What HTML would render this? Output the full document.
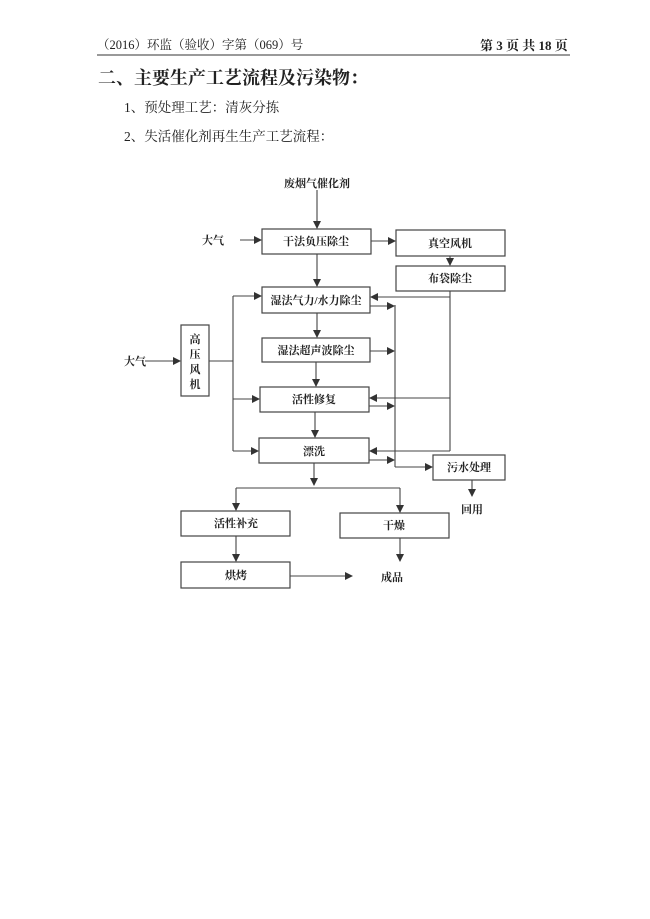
<!DOCTYPE html>
<html><head><meta charset="utf-8"><style>
body{margin:0;background:#fff;}
svg{display:block;}
text{font-family:"Liberation Serif","Noto Serif CJK SC","Noto Sans CJK SC",serif;fill:#222;}
</style></head><body>
<svg width="650" height="919" viewBox="0 0 650 919" xmlns="http://www.w3.org/2000/svg">
<defs><marker id="a" markerWidth="8" markerHeight="8" refX="7" refY="4" orient="auto" markerUnits="userSpaceOnUse"><path d="M0,0 L8,4 L0,8 z" fill="#333"/></marker></defs>
<text x="97" y="49" font-size="12.5">（2016）环监（验收）字第（069）号</text>
<text x="480" y="50" font-size="13" font-weight="bold">第 3 页 共 18 页</text>
<line x1="97" y1="55" x2="570" y2="55" stroke="#333" stroke-width="1"/>
<text x="98" y="84" font-size="18" font-weight="bold" font-family="Liberation Sans,Noto Sans CJK SC,sans-serif">二、主要生产工艺流程及污染物：</text>
<text x="124" y="112" font-size="13.5">1、预处理工艺：清灰分拣</text>
<text x="124" y="141" font-size="13.5">2、失活催化剂再生生产工艺流程：</text>
<g stroke="#444" stroke-width="1.2" fill="none">
<rect x="262" y="229" width="109" height="25"/>
<rect x="396" y="230" width="109" height="26"/>
<rect x="396" y="266" width="109" height="25"/>
<rect x="262" y="287" width="108" height="26"/>
<rect x="262" y="338" width="108" height="24"/>
<rect x="181" y="325" width="28" height="71"/>
<rect x="260" y="387" width="109" height="25"/>
<rect x="259" y="438" width="110" height="25"/>
<rect x="433" y="455" width="72" height="25"/>
<rect x="181" y="511" width="109" height="25"/>
<rect x="340" y="513" width="109" height="25"/>
<rect x="181" y="562" width="109" height="26"/>
</g>
<g stroke="#444" stroke-width="1.1" fill="none" marker-end="url(#a)">
<line x1="317" y1="190" x2="317" y2="228"/>
<line x1="240" y1="240" x2="261" y2="240"/>
<line x1="371" y1="241" x2="395" y2="241"/>
<line x1="450" y1="256" x2="450" y2="265"/>
<line x1="317" y1="254" x2="317" y2="286"/>
<line x1="317" y1="313" x2="317" y2="337"/>
<line x1="316" y1="362" x2="316" y2="386"/>
<line x1="315" y1="412" x2="315" y2="437"/>
<line x1="145" y1="361" x2="180" y2="361"/>
<line x1="233" y1="296" x2="261" y2="296"/>
<line x1="233" y1="399" x2="259" y2="399"/>
<line x1="233" y1="451" x2="258" y2="451"/>
<line x1="450" y1="297" x2="371" y2="297"/>
<line x1="450" y1="398" x2="370" y2="398"/>
<line x1="450" y1="451" x2="370" y2="451"/>
<line x1="370" y1="306" x2="394" y2="306"/>
<line x1="370" y1="351" x2="394" y2="351"/>
<line x1="369" y1="406" x2="394" y2="406"/>
<line x1="369" y1="460" x2="394" y2="460"/>
<line x1="395" y1="467" x2="432" y2="467"/>
<line x1="472" y1="480" x2="472" y2="496"/>
<line x1="236" y1="488" x2="236" y2="510"/>
<line x1="400" y1="488" x2="400" y2="512"/>
<line x1="236" y1="536" x2="236" y2="561"/>
<line x1="400" y1="538" x2="400" y2="561"/>
<line x1="290" y1="576" x2="352" y2="576"/>
<line x1="314" y1="463" x2="314" y2="485"/>
</g>
<g stroke="#444" stroke-width="1.1" fill="none">
<line x1="209" y1="361" x2="233" y2="361"/>
<line x1="233" y1="296" x2="233" y2="451"/>
<line x1="450" y1="291" x2="450" y2="451"/>
<line x1="395" y1="305" x2="395" y2="467"/>
<line x1="236" y1="488" x2="400" y2="488"/>
</g>
<g font-size="11" font-weight="bold" text-anchor="middle">
<text x="317" y="187">废烟气催化剂</text>
<text x="213" y="244">大气</text>
<text x="316" y="245">干法负压除尘</text>
<text x="450" y="247">真空风机</text>
<text x="450" y="282">布袋除尘</text>
<text x="316" y="304">湿法气力/水力除尘</text>
<text x="316" y="354">湿法超声波除尘</text>
<text x="195" y="343">高</text>
<text x="195" y="358">压</text>
<text x="195" y="373">风</text>
<text x="195" y="388">机</text>
<text x="135" y="365">大气</text>
<text x="314" y="403">活性修复</text>
<text x="314" y="455">漂洗</text>
<text x="469" y="471">污水处理</text>
<text x="472" y="513">回用</text>
<text x="236" y="527">活性补充</text>
<text x="394" y="529">干燥</text>
<text x="236" y="579">烘烤</text>
<text x="392" y="581">成品</text>
</g>
</svg>
</body></html>
